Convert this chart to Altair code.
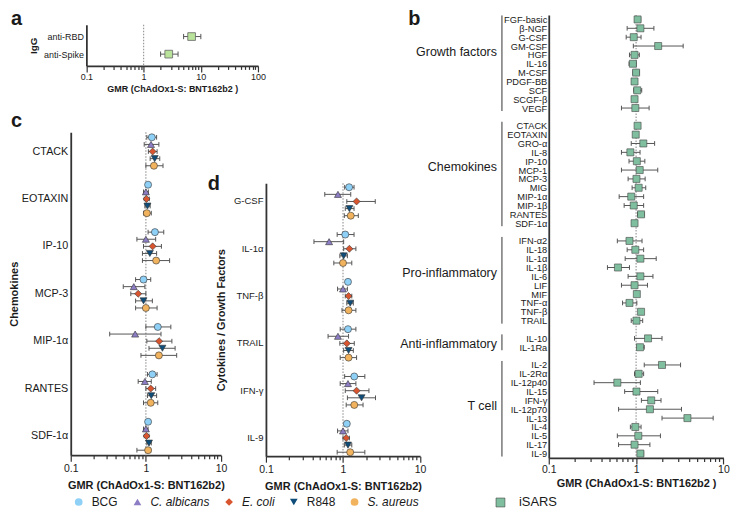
import altair as alt
import pandas as pd

FONT = "Liberation Sans"
TXT = "#1a1a1a"
AX = "#333333"
ERR = "#555555"

# ---------------- panel a ----------------
a_items = ["anti-RBD", "anti-Spike"]
a_gmr = [6.9, 2.75]
a_lo = [5.0, 1.98]
a_hi = [10.0, 4.0]

# ---------------- panels c & d ----------------
stims = ["BCG", "C. albicans", "E. coli", "R848", "S. aureus"]
stim_colors = ["#8FD0F7", "#8C7DC4", "#D9552F", "#0E4D7A", "#F2B35E"]
stim_shapes = ["circle", "triangle-up", "diamond", "triangle-down", "circle"]

c_cats = ["CTACK", "EOTAXIN", "IP-10", "MCP-3", "MIP-1α", "RANTES", "SDF-1α"]
c_gmr = [[1.20, 1.17, 1.23, 1.31, 1.28],
         [1.07, 1.00, 1.02, 1.05, 1.03],
         [1.32, 1.00, 1.23, 1.13, 1.37],
         [0.93, 0.69, 0.79, 0.93, 1.00],
         [1.44, 0.72, 1.50, 1.66, 1.49],
         [1.22, 0.97, 1.16, 1.18, 1.16],
         [1.07, 1.00, 1.02, 1.10, 1.07]]
c_lo = [[1.03, 0.95, 1.08, 1.14, 1.00],
        [1.03, 0.93, 0.95, 0.97, 0.93],
        [1.07, 0.76, 0.93, 0.90, 0.90],
        [0.73, 0.50, 0.63, 0.73, 0.73],
        [1.00, 0.33, 1.03, 1.10, 0.86],
        [1.05, 0.79, 1.00, 1.05, 0.93],
        [1.03, 0.93, 0.95, 1.03, 0.76]]
c_hi = [[1.39, 1.49, 1.41, 1.53, 1.69],
        [1.11, 1.08, 1.11, 1.14, 1.18],
        [1.73, 1.35, 1.61, 1.39, 2.07],
        [1.16, 0.97, 1.00, 1.22, 1.41],
        [2.15, 1.59, 2.22, 2.45, 2.57],
        [1.41, 1.18, 1.35, 1.39, 1.44],
        [1.11, 1.07, 1.10, 1.18, 1.16]]

d_cats = ["G-CSF", "IL-1α", "TNF-β", "TRAIL", "IFN-γ", "IL-9"]
d_gmr = [[1.20, 0.86, 1.50, 1.21, 1.26],
         [1.07, 0.66, 1.21, 1.02, 1.00],
         [1.16, 1.00, 1.18, 1.24, 1.18],
         [1.16, 0.86, 1.12, 1.18, 1.18],
         [1.40, 1.16, 1.50, 1.74, 1.40],
         [1.12, 1.00, 1.10, 1.16, 1.24]]
d_lo = [[1.05, 0.58, 1.12, 1.07, 1.04],
        [0.84, 0.42, 1.02, 0.91, 0.76],
        [1.12, 0.85, 1.07, 1.12, 0.97],
        [0.92, 0.64, 0.91, 1.02, 0.92],
        [1.05, 0.92, 1.07, 1.14, 1.10],
        [1.08, 0.85, 1.00, 1.04, 0.84]]
d_hi = [[1.39, 1.26, 2.62, 1.39, 1.58],
        [1.39, 1.02, 1.47, 1.14, 1.30],
        [1.20, 1.14, 1.30, 1.36, 1.47],
        [1.47, 1.18, 1.40, 1.36, 1.50],
        [1.92, 1.47, 2.17, 2.64, 1.82],
        [1.16, 1.16, 1.21, 1.30, 1.92]]

# ---------------- panel b ----------------
b_groups = ["Growth factors", "Chemokines", "Pro-inflammatory", "Anti-inflammatory", "T cell"]
b_anchor = ["HGF", "MCP-1", "IL-6", "IL-1Ra", "IL-12p70"]
b_items = [
    ["FGF-basic", "β-NGF", "G-CSF", "GM-CSF", "HGF", "IL-16", "M-CSF", "PDGF-BB", "SCF", "SCGF-β", "VEGF"],
    ["CTACK", "EOTAXIN", "GRO-α", "IL-8", "IP-10", "MCP-1", "MCP-3", "MIG", "MIP-1α", "MIP-1β", "RANTES", "SDF-1α"],
    ["IFN-α2", "IL-18", "IL-1α", "IL-1β", "IL-6", "LIF", "MIF", "TNF-α", "TNF-β", "TRAIL"],
    ["IL-10", "IL-1Ra"],
    ["IL-2", "IL-2Rα", "IL-12p40", "IL-15", "IFN-γ", "IL-12p70", "IL-13", "IL-4", "IL-5", "IL-17", "IL-9"],
]
b_gmr = [
    [1.04, 1.12, 0.94, 1.79, 0.96, 0.92, 1.00, 0.96, 1.03, 0.96, 0.98],
    [1.04, 0.99, 1.21, 0.86, 1.02, 1.10, 1.01, 1.07, 0.88, 0.94, 1.14, 0.96],
    [0.84, 0.98, 1.12, 0.62, 1.12, 0.96, 1.02, 0.84, 1.14, 1.01],
    [1.37, 1.11],
    [1.98, 1.07, 0.61, 1.01, 1.49, 1.44, 3.87, 0.98, 1.06, 0.96, 1.12],
]
b_lo = [
    [0.97, 0.79, 0.77, 0.93, 0.84, 0.83, 0.92, 0.93, 0.94, 0.93, 0.68],
    [1.00, 0.96, 0.88, 0.68, 0.83, 0.68, 0.81, 0.90, 0.64, 0.73, 1.04, 0.93],
    [0.61, 0.79, 0.75, 0.47, 0.81, 0.68, 0.98, 0.70, 1.08, 0.88],
    [0.96, 1.03],
    [1.24, 0.96, 0.33, 0.74, 1.15, 0.63, 1.98, 0.86, 0.61, 0.63, 1.04],
]
b_hi = [
    [1.13, 1.60, 1.14, 3.46, 1.09, 1.00, 1.09, 1.00, 1.16, 1.00, 1.41],
    [1.08, 1.03, 1.63, 1.11, 1.26, 1.77, 1.27, 1.29, 1.22, 1.22, 1.24, 1.00],
    [1.17, 1.22, 1.70, 0.84, 1.56, 1.35, 1.06, 1.02, 1.19, 1.19],
    [1.98, 1.24],
    [3.23, 1.22, 1.12, 1.77, 1.93, 3.31, 7.63, 1.14, 1.90, 1.44, 1.22],
]

# ---------------- helpers ----------------
MAJOR = "abs(log(datum.value)/LN10 - round(log(datum.value)/LN10)) < 0.01"
ticks10 = [m * 10.0 ** e for e in (-1, 0) for m in range(1, 10)] + [10.0]
ticks100 = [m * 10.0 ** e for e in (-1, 0, 1) for m in range(1, 10)] + [100.0]


def x_axis(title, values, label_size=10.5, title_size=11, title_pad=6, label_pad=2, **kw):
    return alt.Axis(
        title=title, values=values, format="~g",
        labelExpr=f"{MAJOR} ? datum.label : ''",
        tickSize={"condition": {"test": MAJOR, "value": 6}, "value": 3.5},
        tickWidth=1.2, tickColor=AX, domainColor=AX, domainWidth=1.8,
        labelFont=FONT, labelFontSize=label_size, labelColor=TXT, labelPadding=label_pad,
        labelFlush=False, labelOverlap=False,
        titleFont=FONT, titleFontSize=title_size, titleFontWeight="bold", titleColor=TXT,
        titlePadding=title_pad, grid=False, **kw)


def y_axis(title, label_size=10, title_pad=4, title_size=11, label_pad=3, **kw):
    return alt.Axis(
        title=title, ticks=False, domainColor=AX, domainWidth=1.8,
        labelFont=FONT, labelFontSize=label_size, labelColor=TXT, labelPadding=label_pad,
        labelOverlap=False,
        titleFont=FONT, titleFontSize=title_size, titleFontWeight="bold", titleColor=TXT,
        titlePadding=title_pad, grid=False, **kw)


def letter(ch, x, y):
    return alt.Chart(pd.DataFrame({"t": [ch]})).mark_text(
        align="left", baseline="alphabetic", fontSize=20, fontWeight="bold",
        font=FONT, color=TXT).encode(x=alt.value(x), y=alt.value(y), text="t:N")


CAP = "M0,-1L0,1"


def stim_panel(cats, gmr, lo, hi, y_range, pad_outer, x_range, y_title, x_title,
               label_size, title_pad, legend):
    rows = []
    for i, cat in enumerate(cats):
        for j, s in enumerate(stims):
            rows.append({"cat": cat, "stim": s, "gmr": gmr[i][j], "lo": lo[i][j], "hi": hi[i][j]})
    df = pd.DataFrame(rows)
    xs = alt.Scale(type="log", domain=[0.1, 10], nice=False, range=x_range)
    xax = x_axis(x_title, ticks10, title_pad=6)
    ys = alt.Scale(domain=cats, range=y_range, paddingInner=0.25, paddingOuter=pad_outer)
    yax = y_axis(y_title, label_size=label_size, title_pad=title_pad)
    y = alt.Y("cat:N", sort=cats, scale=ys, axis=yax)
    yo = alt.YOffset("stim:N", sort=stims, scale=alt.Scale(domain=stims, paddingInner=0, paddingOuter=0))
    base = alt.Chart(df)
    ref = alt.Chart(pd.DataFrame({"v": [1.0]})).mark_rule(
        color="#9a9a9a", strokeDash=[1.5, 1.5], strokeWidth=1.2).encode(
        x=alt.X("v:Q", scale=xs, axis=xax), y=alt.value(y_range[0]), y2=alt.value(y_range[1]))
    bars = base.mark_rule(color=ERR, strokeWidth=1).encode(
        x=alt.X("lo:Q", scale=xs, axis=xax), x2="hi:Q", y=y, yOffset=yo)
    cap_lo = base.mark_point(shape=CAP, filled=False, size=22, color=ERR, strokeWidth=1, opacity=1).encode(
        x=alt.X("lo:Q", scale=xs, axis=xax), y=y, yOffset=yo)
    cap_hi = base.mark_point(shape=CAP, filled=False, size=22, color=ERR, strokeWidth=1, opacity=1).encode(
        x=alt.X("hi:Q", scale=xs, axis=xax), y=y, yOffset=yo)
    pts = base.mark_point(filled=True, size=50, opacity=1, stroke="#333333", strokeWidth=0.6).encode(
        x=alt.X("gmr:Q", scale=xs, axis=xax), y=y, yOffset=yo,
        color=alt.Color("stim:N", sort=stims, scale=alt.Scale(domain=stims, range=stim_colors), legend=legend),
        shape=alt.Shape("stim:N", sort=stims, scale=alt.Scale(domain=stims, range=stim_shapes), legend=legend))
    return alt.layer(ref, bars, cap_lo, cap_hi, pts)


stim_legend = alt.Legend(
    orient="none", legendX=2, legendY=483, direction="horizontal", title=None,
    labelFont=FONT, labelFontSize=12, labelColor=TXT, symbolSize=60, labelOffset=7,
    columnPadding=13, symbolStrokeWidth=0.6, symbolStrokeColor="#333333", symbolOpacity=1,
    labelFontStyle={"expr": "datum.label == 'BCG' || datum.label == 'R848' ? 'normal' : 'italic'"})

# ---- panel c (+ panel a drawn in the same view with independent scales) ----
C_W, C_H = 150.9, 442
c_layer = stim_panel(c_cats, c_gmr, c_lo, c_hi, [117.8, 442], 0.03, [0, C_W], "Chemokines",
                     "GMR (ChAdOx1-S: BNT162b2)", 10.8, 2, stim_legend)

a_df = pd.DataFrame({"item": a_items, "gmr": a_gmr, "lo": a_lo, "hi": a_hi})
A_TOP, A_BOT = 9.8, 51.1
xa_s = alt.Scale(type="log", domain=[0.1, 100], nice=False, range=[15.7, 188.1])
xa_ax = x_axis("GMR (ChAdOx1-S: BNT162b2 )", ticks100, label_size=9, title_size=9, title_pad=3,
               label_pad=1, orient="bottom", offset=-(C_H - A_BOT))
ya = alt.Y("item:N", sort=a_items,
           scale=alt.Scale(type="point", domain=a_items, range=[A_TOP, A_BOT], padding=0.67),
           axis=y_axis("IgG", label_size=9, title_pad=5, title_size=10, orient="left", offset=-15.7))
a_base = alt.Chart(a_df)
a_ref = alt.Chart(pd.DataFrame({"v": [1.0]})).mark_rule(
    color="#9a9a9a", strokeDash=[1.5, 1.5], strokeWidth=1.2).encode(
    x=alt.X("v:Q", scale=xa_s, axis=xa_ax), y=alt.value(A_TOP), y2=alt.value(A_BOT))
a_bars = a_base.mark_rule(color=ERR, strokeWidth=1).encode(
    x=alt.X("lo:Q", scale=xa_s, axis=xa_ax), x2="hi:Q", y=ya)
a_cap_lo = a_base.mark_point(shape=CAP, filled=False, size=28, color=ERR, strokeWidth=1, opacity=1).encode(
    x=alt.X("lo:Q", scale=xa_s, axis=xa_ax), y=ya)
a_cap_hi = a_base.mark_point(shape=CAP, filled=False, size=28, color=ERR, strokeWidth=1, opacity=1).encode(
    x=alt.X("hi:Q", scale=xa_s, axis=xa_ax), y=ya)
a_pts = a_base.mark_point(shape="square", filled=True, size=60, color="#B9E39B", opacity=1,
                          stroke="#666666", strokeWidth=0.8).encode(
    x=alt.X("gmr:Q", scale=xa_s, axis=xa_ax), y=ya)
a_layer = alt.layer(a_ref, a_bars, a_cap_lo, a_cap_hi, a_pts)

c_view = alt.layer(c_layer, a_layer, letter("a", -60, 10.5), letter("c", -60, 112)).resolve_scale(
    x="independent", y="independent").properties(width=C_W, height=C_H)

# ---- panel d ----
D_W, D_H = 238.2, 443
d_layer = stim_panel(d_cats, d_gmr, d_lo, d_hi, [168.9, 443], 0.01, [0, 154.8],
                     "Cytokines / Growth Factors", "GMR (ChAdOx1-S: BNT162b2)", 9.5, 7, None)
d_view = alt.layer(d_layer, letter("d", -58.5, 175.8)).properties(width=D_W, height=D_H)

# ---- panel b ----
b_rows, recs, grp = [], [], []
for g, (name, items) in enumerate(zip(b_groups, b_items)):
    if g > 0:
        b_rows.append(f"gap{g}")
    for k, it in enumerate(items):
        b_rows.append(it)
        recs.append({"row": it, "gmr": b_gmr[g][k], "lo": b_lo[g][k], "hi": b_hi[g][k], "series": "iSARS"})
    grp.append({"name": name, "first": items[0], "last": items[-1], "anchor": b_anchor[g]})
b_df = pd.DataFrame(recs)
g_df = pd.DataFrame(grp)

B_W, B_H = 175.4, 444.8
xb_s = alt.Scale(type="log", domain=[0.1, 10], nice=False)
xb_ax = x_axis("GMR (ChAdOx1-S: BNT162b2 )", ticks10, title_pad=2, label_pad=1)
yb_s = alt.Scale(type="point", domain=b_rows, range=[0, B_H], padding=0.5)
yb_ax = y_axis(None, label_size=9.3, label_pad=2,
               labelExpr="indexof(datum.value, 'gap') == 0 ? '' : datum.value")
yb = alt.Y("row:N", sort=b_rows, scale=yb_s, axis=yb_ax)

b_base = alt.Chart(b_df)
b_ref = alt.Chart(pd.DataFrame({"v": [1.0]})).mark_rule(
    color="#9a9a9a", strokeDash=[1.5, 1.5], strokeWidth=1.2).encode(
    x=alt.X("v:Q", scale=xb_s, axis=xb_ax))
b_bars = b_base.mark_rule(color=ERR, strokeWidth=1).encode(
    x=alt.X("lo:Q", scale=xb_s, axis=xb_ax), x2="hi:Q", y=yb)
b_cap_lo = b_base.mark_point(shape=CAP, filled=False, size=22, color=ERR, strokeWidth=1, opacity=1).encode(
    x=alt.X("lo:Q", scale=xb_s, axis=xb_ax), y=yb)
b_cap_hi = b_base.mark_point(shape=CAP, filled=False, size=22, color=ERR, strokeWidth=1, opacity=1).encode(
    x=alt.X("hi:Q", scale=xb_s, axis=xb_ax), y=yb)
b_pts = b_base.mark_point(shape="square", filled=True, size=50, opacity=1,
                          stroke="#444444", strokeWidth=0.6).encode(
    x=alt.X("gmr:Q", scale=xb_s, axis=xb_ax), y=yb,
    color=alt.Color("series:N", scale=alt.Scale(domain=["iSARS"], range=["#7FBE9E"]),
                    legend=alt.Legend(orient="none", legendX=-55, legendY=483, title=None,
                                      labelFont=FONT, labelFontSize=13, labelColor=TXT,
                                      symbolType="square", symbolSize=80, labelOffset=12,
                                      symbolStrokeColor="#444444", symbolStrokeWidth=0.6,
                                      symbolOpacity=1)))
b_brackets = alt.Chart(g_df).mark_rule(color=AX, strokeWidth=1, yOffset=-4, y2Offset=3).encode(
    x=alt.value(-47), y=alt.Y("first:N", scale=yb_s, axis=yb_ax), y2="last:N")
b_glabels = alt.Chart(g_df).mark_text(align="right", baseline="middle", dy=-3, fontSize=12.5,
                                      font=FONT, color=TXT).encode(
    x=alt.value(-52), y=alt.Y("anchor:N", scale=yb_s, axis=yb_ax), text="name:N")

b_view = alt.layer(b_ref, b_bars, b_cap_lo, b_cap_hi, b_pts, b_brackets, b_glabels,
                   letter("b", -141.1, 10.5)).properties(width=B_W, height=B_H)

chart = alt.hconcat(c_view, d_view, b_view, spacing=45, bounds="flush").resolve_scale(
    color="independent", shape="independent").properties(padding=0).configure(
    font=FONT).configure_view(stroke=None)

chart.save("out.html", embed_options={"renderer": "svg", "actions": False})
